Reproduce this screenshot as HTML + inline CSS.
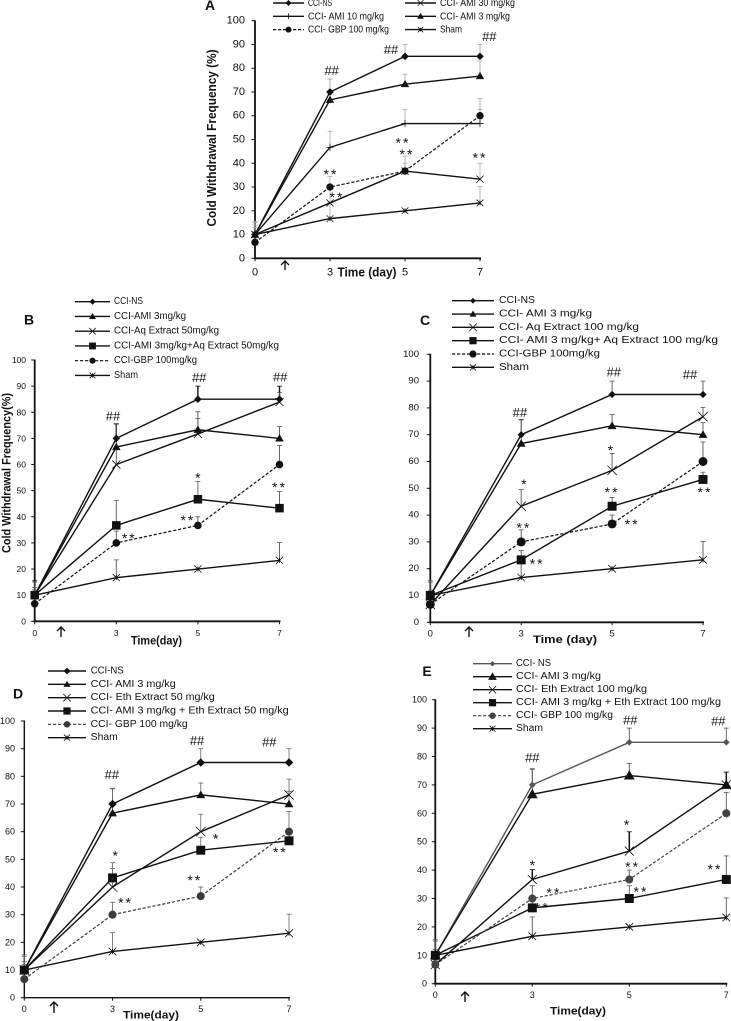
<!DOCTYPE html>
<html lang="en">
<head>
<meta charset="utf-8">
<title>Cold Withdrawal Frequency panels A-E</title>
<style>
html,body{margin:0;padding:0;background:#fff;width:731px;height:1021px;overflow:hidden}
svg{display:block;filter:blur(0.3px)}
text{font-family:"Liberation Sans",sans-serif;fill:#111}
</style>
</head>
<body>
<svg id="figure" width="731" height="1021" viewBox="0 0 731 1021" xmlns="http://www.w3.org/2000/svg"></svg>
<script>
const dayLabels = ['0', '3', '5', '7'];
const yTickValues = [0, 10, 20, 30, 40, 50, 60, 70, 80, 90, 100];

const nsValues = [10, 70, 85, 85];
const nsTops = [15.5, 75.5, 90, 90];
const ami3Values = [10, 66.7, 73.3, 70];
const ami3Tops = [15, 75.7, 77.6, 74.5];
const gbpValues = [6.7, 30, 36.7, 60];
const gbpTops = [8.5, 34.5, 40, 67.3];
const shamValues = [10, 16.7, 20, 23.3];
const shamTops = [11, 23.5, 20, 30.2];

const panelAAmi30Values = [10, 23.3, 36.7, 33.3];
const panelAAmi30Tops = [13, 30, 43, 40];
const panelAAmi10Values = [10, 46.7, 56.7, 56.7];
const panelAAmi10Tops = [14, 53.5, 62.7, 62.7];
const panelAAmi3Values = [10, 66.7, 73.3, 76.7];
const panelAAmi3Tops = [15, 75.5, 77.5, 83];

const panelBAq50Values = [10, 60, 71.7, 83.9];
const panelBAq50Tops = [13, 70, 80.2, 87.5];
const panelBComboValues = [10, 36.7, 46.7, 43.3];
const panelBComboTops = [12, 46.3, 53.5, 49.6];

const panelCAq100Values = [6.7, 43.3, 56.7, 76.7];
const panelCAq100Tops = [8, 49.5, 63, 80.2];
const panelCComboValues = [10, 23.3, 43.3, 53.3];
const panelCComboTops = [12, 26.8, 46.6, 56];

const panelDEth50Values = [10, 40, 60, 73.3];
const panelDEth50Tops = [13, 46.7, 66.3, 79];
const panelDComboValues = [10, 43.3, 53.3, 56.7];
const panelDComboTops = [12, 48.8, 58, 60];

const panelEEth100Values = [6.7, 36.7, 46.7, 70];
const panelEEth100Tops = [8, 40.2, 53.5, 74.5];
const panelEComboValues = [10, 26.7, 30, 36.7];
const panelEComboTops = [12, 29, 34.5, 45];

const svg = document.getElementById('figure');
const NS = 'http://www.w3.org/2000/svg';

function make(tag, parent, attrs, name) {
  const el = document.createElementNS(NS, tag);
  for (const k in attrs) el.setAttribute(k, attrs[k]);
  
  
  parent.appendChild(el);
  return el;
}

function drawMarker(g, type, x, y, s, color, name) {
  if (type === 'diamond') {
    make('polygon', g, {points: `${x},${y - s} ${x + s},${y} ${x},${y + s} ${x - s},${y}`, fill: color}, name);
  } else if (type === 'triangle') {
    make('polygon', g, {points: `${x},${y - s * 1.1} ${x + s * 1.1},${y + s * 0.8} ${x - s * 1.1},${y + s * 0.8}`, fill: color}, name);
  } else if (type === 'square') {
    make('rect', g, {x: x - s, y: y - s, width: 2 * s, height: 2 * s, fill: color}, name);
  } else if (type === 'circle') {
    make('circle', g, {cx: x, cy: y, r: s, fill: color}, name);
  } else {
    let d = '';
    if (type === 'cross' || type === 'star') d += `M${x - s} ${y - s}L${x + s} ${y + s}M${x - s} ${y + s}L${x + s} ${y - s}`;
    if (type === 'star') d += `M${x} ${y - s * 0.7}L${x} ${y + s * 0.7}`;
    if (type === 'plus') d += `M${x - s} ${y}L${x + s} ${y}M${x} ${y - s}L${x} ${y + s}`;
    make('path', g, {d: d, stroke: color, 'stroke-width': 0.8, fill: 'none'}, name);
  }
}

function drawPanel(p) {
  const g = make('g', svg, {}, 'panel-' + p.letter.toLowerCase());
  const xScale = i => p.x0 + (p.x7 - p.x0) * i / (dayLabels.length - 1);
  const yScale = v => p.y0 + (p.y100 - p.y0) * v / 100;

  make('text', g, {x: p.letterX, y: p.letterY, 'font-size': 14, 'font-weight': 'bold', 'text-anchor': 'middle', 'dominant-baseline': 'central'}, 'panel-letter').textContent = p.letter;

  // axes
  make('line', g, {x1: xScale(0), x2: xScale(0), y1: yScale(100) - 0.5, y2: yScale(0) + 0.5, stroke: '#111', 'stroke-width': p.axisW}, 'y-axis');
  make('line', g, {x1: xScale(0) - 1, x2: xScale(3) + 1, y1: yScale(0), y2: yScale(0), stroke: '#111', 'stroke-width': p.axisW}, 'x-axis');
  yTickValues.forEach(v => {
    make('line', g, {x1: xScale(0) - 3.5, x2: xScale(0), y1: yScale(v), y2: yScale(v), stroke: '#111', 'stroke-width': 1}, 'y-tick');
    make('text', g, {x: p.yLabelX, y: yScale(v), 'font-size': p.tickFs, 'text-anchor': 'end', 'dominant-baseline': 'central'}, 'y-tick-label').textContent = v;
  });
  dayLabels.forEach((d, i) => {
    make('line', g, {x1: xScale(i), x2: xScale(i), y1: yScale(0), y2: yScale(0) + 3, stroke: '#111', 'stroke-width': 1}, 'x-tick');
    make('text', g, {x: xScale(i), y: p.xLabelY, 'font-size': p.tickFs, 'text-anchor': 'middle', 'dominant-baseline': 'central'}, 'x-tick-label').textContent = d;
  });

  // titles
  make('text', g, {x: p.xTitleX, y: p.xTitleY, 'font-size': p.titleFs, 'font-weight': 'bold', 'text-anchor': 'middle', 'dominant-baseline': 'central', textLength: p.xTitleW, lengthAdjust: 'spacingAndGlyphs'}, 'x-axis-title').textContent = p.xTitle;
  if (p.yTitle) {
    make('text', g, {transform: `translate(${p.yTitleX},${p.yTitleY}) rotate(-90)`, 'font-size': p.titleFs, 'font-weight': 'bold', 'text-anchor': 'middle', 'dominant-baseline': 'central', textLength: p.yTitleW, lengthAdjust: 'spacingAndGlyphs'}, 'y-axis-title').textContent = p.yTitle;
  }

  // error bars
  p.series.forEach(s => {
    s.tops.forEach((t, i) => {
      const x = xScale(i);
      const col = s.errColor || p.errColor;
      const w = s.errW || p.errW;
      make('line', g, {x1: x, x2: x, y1: yScale(s.values[i]), y2: yScale(t), stroke: col, 'stroke-width': w}, 'error-bar');
      make('line', g, {x1: x - 2.5, x2: x + 2.5, y1: yScale(t), y2: yScale(t), stroke: col, 'stroke-width': 0.8}, 'error-cap');
    });
  });

  // series
  p.series.forEach(s => {
    const lineColor = s.color || '#111';
    const pts = s.values.map((v, i) => xScale(i) + ',' + yScale(v)).join(' ');
    const attrs = {points: pts, fill: 'none', stroke: lineColor, 'stroke-width': s.dash ? 1.2 : 1.4};
    if (s.dash) attrs['stroke-dasharray'] = '3.2 1.8';
    make('polyline', g, attrs, 'series-line');
    s.values.forEach((v, i) => {
      drawMarker(g, s.mark, xScale(i), yScale(v), s.size * 1.12, lineColor, 'series-point');
    });
  });

  // legend
  p.series.forEach((s, i) => {
    const col = p.legend.cols === 2 ? i % 2 : 0;
    const row = p.legend.cols === 2 ? Math.floor(i / 2) : i;
    const y = p.legend.y0 + row * p.legend.dy;
    const off = col * (p.legend.colDx || 0);
    const lineColor = s.color || '#111';
    const attrs = {x1: p.legend.x1 + off, x2: p.legend.x2 + off, y1: y, y2: y, stroke: lineColor, 'stroke-width': s.dash ? 1.2 : 1.4};
    if (s.dash) attrs['stroke-dasharray'] = '3.2 1.8';
    make('line', g, attrs, 'legend-line');
    drawMarker(g, s.mark, (p.legend.x1 + p.legend.x2) / 2 + off, y, s.size * 0.9, lineColor, 'legend-marker');
    make('text', g, {x: p.legend.tx + off, y: y, 'font-size': p.legend.fs, 'dominant-baseline': 'central', textLength: s.w, lengthAdjust: 'spacingAndGlyphs'}, 'legend-label').textContent = s.label;
  });

  // significance notes
  p.notes.forEach(n => {
    const fs = n[3][0] === '*' ? 14 : 13;
    const dy = n[3][0] === '*' ? fs * 0.55 : fs * 0.36;
    const attrs = {x: xScale(n[0]) + n[1], y: yScale(n[2]) + dy, 'font-size': fs, 'text-anchor': 'middle', 'letter-spacing': n[3] === '**' ? 2 : 0};
    make('text', g, attrs, 'significance-mark').textContent = n[3];
  });

  // treatment arrow
  const a = p.arrow;
  make('path', g, {d: `M${a.x} ${a.y2}L${a.x} ${a.y1}M${a.x - 4} ${a.y1 + 4}L${a.x} ${a.y1}L${a.x + 4} ${a.y1 + 4}`, fill: 'none', stroke: '#111', 'stroke-width': 1.4}, 'treatment-arrow');
}

drawPanel({
  letter: 'A', letterX: 210, letterY: 5,
  x0: 255, x7: 480, y0: 258.3, y100: 20.7,
  axisW: 1.8, errColor: '#a8a8a8', errW: 0.8,
  tickFs: 11, yLabelX: 245, xLabelY: 272.5, titleFs: 12.5,
  xTitle: 'Time (day)', xTitleX: 367, xTitleY: 272.5, xTitleW: 59,
  yTitle: 'Cold Withdrawal Frequency (%)', yTitleX: 212, yTitleY: 138, yTitleW: 177,
  arrow: {x: 285, y1: 261, y2: 270},
  legend: {cols: 2, colDx: 132, x1: 273, x2: 304, tx: 308, y0: 3, dy: 13.3, fs: 10.5},
  series: [
    {label: 'CCI-NS', values: nsValues, tops: nsTops, mark: 'diamond', size: 3.4, w: 24},
    {label: 'CCI- AMI 30 mg/kg', values: panelAAmi30Values, tops: panelAAmi30Tops, mark: 'cross', size: 3.2, w: 75},
    {label: 'CCI- AMI 10 mg/kg', values: panelAAmi10Values, tops: panelAAmi10Tops, mark: 'plus', size: 3.2, w: 76},
    {label: 'CCI- AMI 3 mg/kg', values: panelAAmi3Values, tops: panelAAmi3Tops, mark: 'triangle', size: 3.4, w: 70},
    {label: 'CCI- GBP 100 mg/kg', values: gbpValues, tops: gbpTops, mark: 'circle', size: 3.3, dash: true, w: 81},
    {label: 'Sham', values: shamValues, tops: shamTops, mark: 'star', size: 3, w: 22}
  ],
  notes: [[1, 1.7, 79.2, '##'], [2, -14, 88, '##'], [3, 9.3, 93.5, '##'], [1, 1, 36.7, '**'], [1, 7, 27, '**'], [2, -2, 49.8, '**'], [2, 2, 45, '**'], [3, 0, 43.5, '**']]
});

drawPanel({
  letter: 'B', letterX: 29, letterY: 319.5,
  x0: 34.7, x7: 279.5, y0: 621.3, y100: 360,
  axisW: 1.8, errColor: '#555', errW: 0.9,
  tickFs: 8.5, yLabelX: 26, xLabelY: 633, titleFs: 11.5,
  xTitle: 'Time(day)', xTitleX: 156.5, xTitleY: 641.5, xTitleW: 51,
  yTitle: 'Cold Withdrawal Frequency(%)', yTitleX: 7.5, yTitleY: 473, yTitleW: 160,
  arrow: {x: 61, y1: 627, y2: 637},
  legend: {cols: 1, x1: 75, x2: 110, tx: 114, y0: 301.7, dy: 14.75, fs: 10},
  series: [
    {label: 'CCI-NS', values: nsValues, tops: nsTops, mark: 'diamond', size: 3.4, errColor: '#111', errW: 1.4, w: 29},
    {label: 'CCI-AMI 3mg/kg', values: ami3Values, tops: ami3Tops, mark: 'triangle', size: 3.5, w: 72},
    {label: 'CCI-Aq Extract 50mg/kg', values: panelBAq50Values, tops: panelBAq50Tops, mark: 'cross', size: 3.6, w: 105},
    {label: 'CCI-AMI 3mg/kg+Aq Extract 50mg/kg', values: panelBComboValues, tops: panelBComboTops, mark: 'square', size: 3.8, w: 165},
    {label: 'CCI-GBP 100mg/kg', values: gbpValues, tops: gbpTops, mark: 'circle', size: 3.4, dash: true, w: 83},
    {label: 'Sham', values: shamValues, tops: shamTops, mark: 'star', size: 3.2, w: 24}
  ],
  notes: [[1, -3.3, 78.6, '##'], [2, 1.3, 93.4, '##'], [3, 0.7, 93.6, '##'], [2, 0, 56, '*'], [3, 0, 52.4, '**'], [2, -10, 39.8, '**'], [1, 13, 33, '**']]
});

drawPanel({
  letter: 'C', letterX: 425, letterY: 320,
  x0: 430.3, x7: 703, y0: 622.3, y100: 354.3,
  axisW: 1.8, errColor: '#555', errW: 0.9,
  tickFs: 9.5, yLabelX: 419, xLabelY: 634, titleFs: 11,
  xTitle: 'Time (day)', xTitleX: 565, xTitleY: 640, xTitleW: 64,
  arrow: {x: 469, y1: 627, y2: 637},
  legend: {cols: 1, x1: 452, x2: 494, tx: 499, y0: 300.7, dy: 13.33, fs: 10},
  series: [
    {label: 'CCI-NS', values: nsValues, tops: nsTops, mark: 'diamond', size: 3.2, w: 36},
    {label: 'CCI- AMI 3 mg/kg', values: ami3Values, tops: ami3Tops, mark: 'triangle', size: 3.6, w: 93},
    {label: 'CCI- Aq Extract 100 mg/kg', values: panelCAq100Values, tops: panelCAq100Tops, mark: 'cross', size: 4.2, w: 140},
    {label: 'CCI- AMI 3 mg/kg+ Aq Extract 100 mg/kg', values: panelCComboValues, tops: panelCComboTops, mark: 'square', size: 4, w: 219},
    {label: 'CCI-GBP 100mg/kg', values: gbpValues, tops: gbpTops, mark: 'circle', size: 4, dash: true, w: 101},
    {label: 'Sham', values: shamValues, tops: shamTops, mark: 'star', size: 3.4, w: 30}
  ],
  notes: [[1, -1.3, 78.4, '##'], [2, 1.7, 93.5, '##'], [3, -13, 92.5, '##'], [1, 2.7, 52.7, '*'], [2, -1.7, 65.3, '*'], [1, 2.7, 36.4, '**'], [1, 16, 22.9, '**'], [2, 0, 49.6, '**'], [2, 20, 37.6, '**'], [3, 2, 49.6, '**']]
});

drawPanel({
  letter: 'D', letterX: 18, letterY: 693.5,
  x0: 24.3, x7: 289, y0: 997.7, y100: 721,
  axisW: 1.4, errColor: '#666', errW: 0.8,
  tickFs: 9, yLabelX: 15, xLabelY: 1009, titleFs: 11,
  xTitle: 'Time(day)', xTitleX: 151, xTitleY: 1015.5, xTitleW: 56,
  arrow: {x: 54, y1: 1002, y2: 1013},
  legend: {cols: 1, x1: 48, x2: 86, tx: 90.7, y0: 671, dy: 13.33, fs: 10},
  series: [
    {label: 'CCI-NS', values: nsValues, tops: nsTops, mark: 'diamond', size: 3.8, w: 33},
    {label: 'CCI- AMI 3 mg/kg', values: ami3Values, tops: ami3Tops, mark: 'triangle', size: 3.6, w: 85},
    {label: 'CCI- Eth Extract 50 mg/kg', values: panelDEth50Values, tops: panelDEth50Tops, mark: 'cross', size: 4.2, w: 124},
    {label: 'CCI- AMI 3 mg/kg + Eth Extract 50 mg/kg', values: panelDComboValues, tops: panelDComboTops, mark: 'square', size: 4, w: 198},
    {label: 'CCI- GBP 100 mg/kg', values: gbpValues, tops: gbpTops, mark: 'circle', size: 3.6, dash: true, color: '#3a3a3a', w: 97},
    {label: 'Sham', values: shamValues, tops: shamTops, mark: 'star', size: 3.4, w: 27}
  ],
  notes: [[1, -0.7, 80.8, '##'], [2, -3.7, 93, '##'], [3, -19.7, 92.4, '##'], [1, 2.7, 52.3, '*'], [1, 13, 35.4, '**'], [2, 15, 58.6, '*'], [2, -6, 43.5, '**'], [3, -8.7, 53.7, '**']]
});

drawPanel({
  letter: 'E', letterX: 427, letterY: 671,
  x0: 435.3, x7: 726.3, y0: 983.7, y100: 699.7,
  axisW: 1.8, errColor: '#555', errW: 0.9,
  tickFs: 9, yLabelX: 427, xLabelY: 995, titleFs: 11,
  xTitle: 'Time(day)', xTitleX: 578, xTitleY: 1011.5, xTitleW: 56,
  arrow: {x: 465, y1: 992, y2: 1002},
  legend: {cols: 1, x1: 473, x2: 512, tx: 516, y0: 663.7, dy: 13, fs: 10},
  series: [
    {label: 'CCI- NS', values: nsValues, tops: nsTops, mark: 'diamond', size: 3, color: '#555', w: 35},
    {label: 'CCI- AMI 3 mg/kg', values: ami3Values, tops: ami3Tops, mark: 'triangle', size: 4.4, w: 85},
    {label: 'CCI- Eth Extract 100 mg/kg', values: panelEEth100Values, tops: panelEEth100Tops, mark: 'cross', size: 4, errColor: '#111', errW: 1.5, w: 131},
    {label: 'CCI- AMI 3 mg/kg + Eth Extract 100 mg/kg', values: panelEComboValues, tops: panelEComboTops, mark: 'square', size: 4, w: 205},
    {label: 'CCI- GBP 100 mg/kg', values: gbpValues, tops: gbpTops, mark: 'circle', size: 3.6, dash: true, color: '#444', w: 97},
    {label: 'Sham', values: shamValues, tops: shamTops, mark: 'star', size: 3.4, w: 27}
  ],
  notes: [[1, 0, 79.7, '##'], [2, 1, 93, '##'], [3, -8, 92.6, '##'], [1, 0, 42.8, '*'], [2, -2.7, 57, '*'], [1, 21.7, 33, '**'], [1, 10, 27.7, '**'], [2, 3.3, 42.3, '**'], [2, 11.7, 33.4, '**'], [3, -11.3, 41.4, '**']]
});
</script>
</body>
</html>
